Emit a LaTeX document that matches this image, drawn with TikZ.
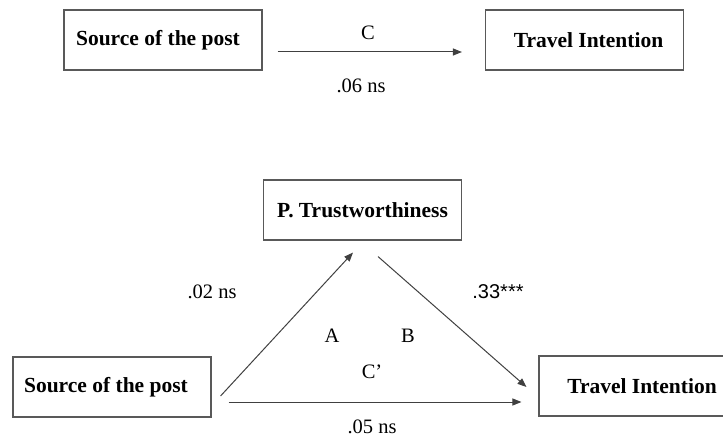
\documentclass[tikz,border=0pt]{standalone}
\usepackage{fontspec}
\setmainfont{Liberation Serif}
\newfontfamily\labelsans{Liberation Sans}
\usetikzlibrary{calc,arrows.meta}
\begin{document}
\begin{tikzpicture}[x=1pt,y=-1pt,
  var/.style={draw=black!65, line width=1.1pt, minimum width=198pt,
    minimum height=60pt, inner sep=0pt,
    font=\fontsize{21.5}{24}\selectfont\bfseries},
  link/.style={draw=black!75, line width=1pt,
    -{Triangle[length=9pt,width=7pt]}},
  lbl/.style={font=\fontsize{20.5}{24}\selectfont, inner sep=0pt},
]
\useasboundingbox (0,0) rectangle (723,438);
\clip (0,0) rectangle (723,438);

% total effect model
\node[var] (src1) at (163,40) {\hspace*{-10pt}Source of the post};
\node[var] (ti1) at (584.5,40) {\hspace*{8pt}Travel Intention};
\coordinate (c1a) at ($(src1.east)+(15,12)$);
\coordinate (c1b) at ($(ti1.west)+(-23,12)$);
\draw[link] (c1a) -- (c1b);
\node[lbl] (lc) at (368,33) {C};
\node[lbl] (l06) at (361,86) {.06 ns};

% mediation model
\node[var] (med) at (362.5,210) {P. Trustworthiness};
\node[var] (src2) at (112,387) {\hspace*{-12pt}Source of the post};
\node[var] (ti2) at (638,386) {\hspace*{8pt}Travel Intention};

\coordinate (pa1) at ($(src2.east)+(9,9)$);
\coordinate (pa2) at ($(med.south)+(-9.5,12)$);
\coordinate (pb1) at ($(med.south)+(15.5,16)$);
\coordinate (pb2) at ($(ti2.west)+(-12,1)$);
\coordinate (pc1) at ($(src2.east)+(17,15)$);
\coordinate (pc2) at ($(ti2.west)+(-17,16)$);
\draw[link] (pa1) -- (pa2);
\draw[link] (pb1) -- (pb2);
\draw[link] (pc1) -- (pc2);

\node[lbl] (l02) at (212,292) {.02 ns};
\node[lbl, font=\fontsize{20}{24}\labelsans] (l33) at (498,292) {.33***};
\node[lbl] (la) at (332,336) {A};
\node[lbl] (lb) at (408,336) {B};
\node[lbl] (lcp) at (372,372) {C’};
\node[lbl] (l05) at (372,427) {.05 ns};
\end{tikzpicture}
\end{document}
